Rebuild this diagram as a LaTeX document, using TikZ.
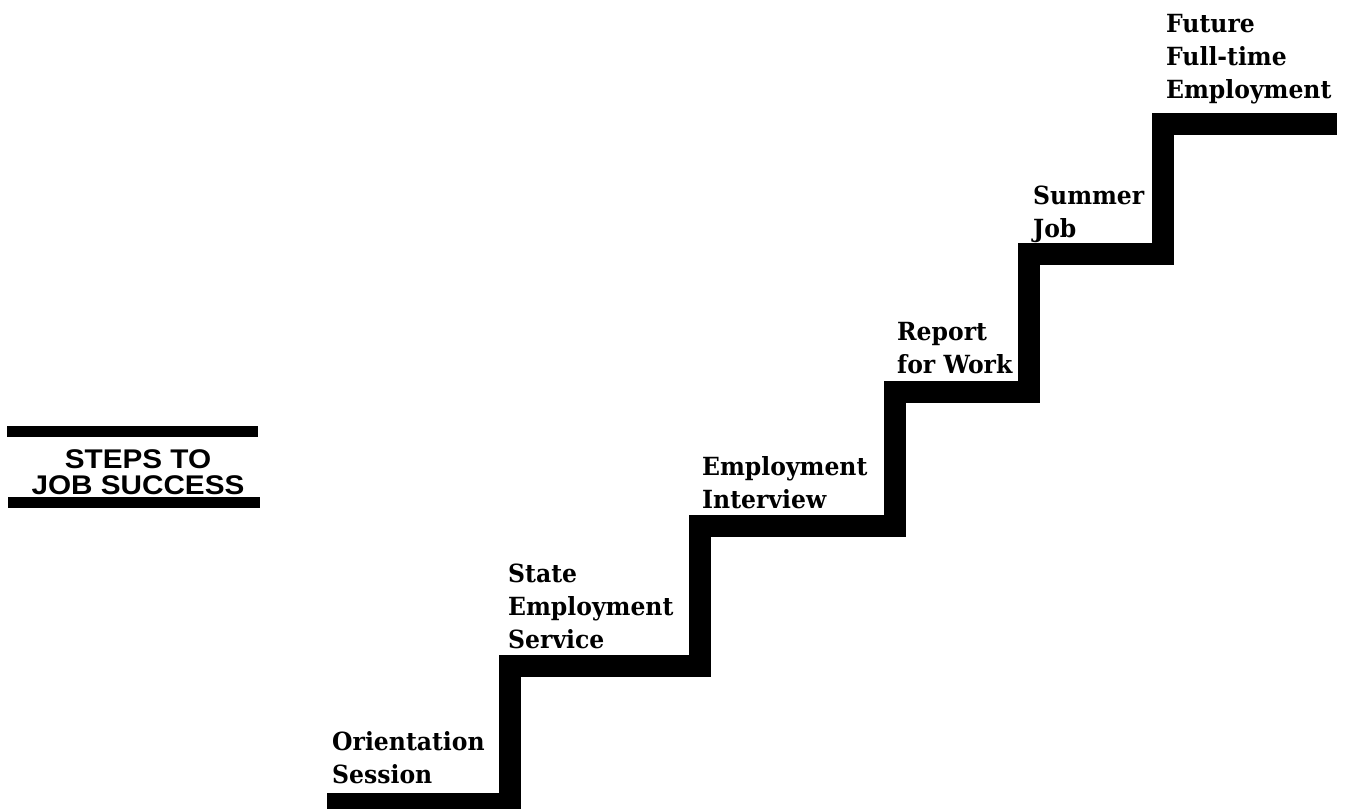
\documentclass[tikz,border=0pt]{standalone}
\usepackage{fontspec}
\newfontfamily\titlefont[FakeStretch=1.1]{Liberation Sans}
\newfontfamily\labfont[FakeStretch=0.94]{DejaVu Serif}
\begin{document}
\begin{tikzpicture}[x=1pt,y=-1pt,
  stair/.style={line width=22pt,line join=miter,line cap=butt},
  bar/.style={fill=black,draw=none},
  lab/.style={anchor=base west,inner sep=0pt,align=left,font=\labfont\bfseries\fontsize{25}{33}\selectfont},
  ttl/.style={anchor=base,inner sep=0pt,align=center,font=\titlefont\bfseries\fontsize{27}{26}\selectfont}]
\useasboundingbox (0,0) rectangle (1345,809);
% staircase
\draw[stair] (327,804) -- (510,804) -- (510,666) -- (699.5,666) -- (699.5,525.5)
  -- (895,525.5) -- (895,392) -- (1029,392) -- (1029,254) -- (1163,254)
  -- (1163,124) -- (1337,124);
% labels
\node[lab] (orient) at (332,783) {Orientation\\Session};
\node[lab] (state) at (508,648) {State\\Employment\\Service};
\node[lab] (interview) at (702,508) {Employment\\Interview};
\node[lab] (report) at (897,373) {Report\\for Work};
\node[lab] (summer) at (1033,237) {Summer\\Job};
\node[lab] (future) at (1166,98) {Future\\Full-time\\Employment};
% title
\fill[bar] (7,426) rectangle (258,437);
\fill[bar] (8,497) rectangle (260,508);
\node[ttl] (title) at (138,494) {STEPS TO\\JOB SUCCESS};
\end{tikzpicture}
\end{document}
